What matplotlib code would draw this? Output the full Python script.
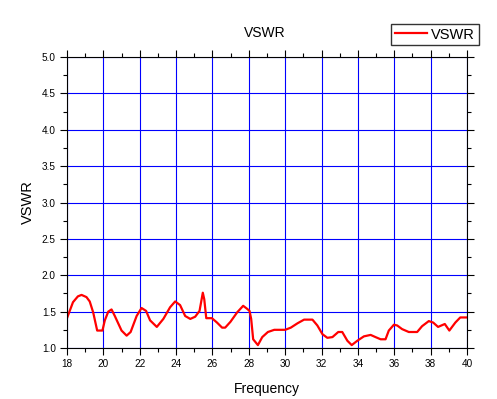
import numpy as np
import matplotlib
matplotlib.use('Agg')
import matplotlib.pyplot as plt
from matplotlib.ticker import MultipleLocator

# frequency points
freq = [18.0, 18.15, 18.33, 18.6, 18.8, 19.07, 19.25, 19.44, 19.66, 19.95,
        20.08, 20.27, 20.45, 20.63, 21.0, 21.28, 21.5, 21.83, 22.1, 22.35,
        22.57, 22.94, 23.3, 23.67, 23.95, 24.22, 24.5, 24.78, 25.05, 25.29,
        25.47, 25.55, 25.66, 25.97, 26.25, 26.53, 26.7, 26.99, 27.36, 27.69,
        27.9, 28.04, 28.13, 28.24, 28.5, 28.74, 29.05, 29.4, 30.0, 30.31,
        30.68, 31.04, 31.5, 31.77, 32.05, 32.32, 32.6, 32.92, 33.14, 33.42,
        33.66, 33.97, 34.33, 34.7, 34.97, 35.25, 35.52, 35.7, 35.98, 36.16,
        36.43, 36.8, 37.26, 37.53, 37.9, 38.14, 38.41, 38.78, 39.03, 39.36,
        39.63, 40.0]
vswr = [1.41, 1.51, 1.63, 1.71, 1.73, 1.70, 1.64, 1.49, 1.24, 1.24,
        1.38, 1.50, 1.53, 1.44, 1.24, 1.17, 1.22, 1.44, 1.55, 1.51,
        1.38, 1.29, 1.40, 1.56, 1.64, 1.59, 1.44, 1.40, 1.43, 1.51,
        1.76, 1.67, 1.41, 1.41, 1.35, 1.28, 1.28, 1.36, 1.49, 1.58,
        1.54, 1.51, 1.40, 1.12, 1.04, 1.15, 1.22, 1.25, 1.25, 1.28,
        1.34, 1.39, 1.39, 1.31, 1.19, 1.14, 1.15, 1.22, 1.22, 1.10,
        1.04, 1.10, 1.16, 1.18, 1.15, 1.12, 1.12, 1.24, 1.32, 1.31,
        1.26, 1.22, 1.22, 1.30, 1.37, 1.35, 1.29, 1.33, 1.24, 1.35,
        1.42, 1.42]

plt.rcParams['font.family'] = ['Liberation Sans', 'DejaVu Sans']

fig = plt.figure(figsize=(4.97, 3.99), dpi=100)
ax = fig.add_axes([0.1348, 0.1278, 0.8048, 0.7293])

ax.plot(freq, vswr, color='#ff0000', linewidth=1.6, label='VSWR')

ax.set_xlim(18, 40)
ax.set_ylim(1.0, 5.0)
ax.xaxis.set_major_locator(MultipleLocator(2))
ax.xaxis.set_minor_locator(MultipleLocator(1))
ax.yaxis.set_major_locator(MultipleLocator(0.5))
ax.yaxis.set_minor_locator(MultipleLocator(0.25))
ax.yaxis.set_major_formatter(matplotlib.ticker.FormatStrFormatter('%.1f'))

ax.grid(True, which='major', color='#0000ff', linewidth=0.8)
ax.set_axisbelow(True)

ax.tick_params(which='both', direction='out', top=True, right=True,
               labeltop=False, labelright=False, color='black', width=0.8)
ax.tick_params(which='major', length=5, labelsize=7.2, pad=3)
ax.tick_params(which='minor', length=3)
for s in ax.spines.values():
    s.set_linewidth(0.8)

ax.set_xlabel('Frequency', fontsize=10, labelpad=9)
ax.set_ylabel('VSWR', fontsize=10.5, labelpad=5)
fig.text(0.533, 0.917, 'VSWR', ha='center', va='center', fontsize=10)

leg = fig.legend(loc='upper right', bbox_to_anchor=(0.963, 0.94),
                 fontsize=10.5, frameon=True, fancybox=False,
                 handlelength=2.2, handletextpad=0.3, borderpad=0.25,
                 borderaxespad=0)
leg.get_frame().set_edgecolor('black')
leg.get_frame().set_linewidth(1.0)

fig.savefig('out.png', dpi=100)
